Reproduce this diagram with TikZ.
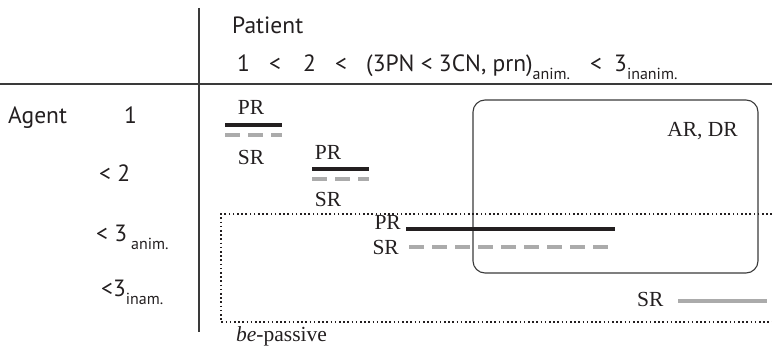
\documentclass[tikz,border=0pt]{standalone}
\usepackage{fontspec}
\setmainfont{Liberation Serif}
\setsansfont{PT Sans}
\definecolor{ink}{HTML}{231F20}
\definecolor{bargray}{HTML}{ABABAB}
\definecolor{framegray}{HTML}{3A3A3A}
\newcommand{\sublow}[1]{\raisebox{-0.33em}{\fontsize{16}{16}\selectfont #1}}
\tikzset{
  head/.style={inner sep=0pt, font=\sffamily\fontsize{23.5}{25}\selectfont, text=ink},
  role/.style={inner sep=0pt, font=\fontsize{21.5}{23}\selectfont, text=ink},
  rule/.style={draw=framegray, line width=1.1pt},
  pbar/.style={draw=ink, line width=3.4pt},
  sbar/.style={draw=bargray, line width=3.4pt},
  sdash/.style={sbar, dash pattern=on 15pt off 8pt},
  region/.style={draw=ink, line width=1.1pt, dash pattern=on 1.6pt off 2.6pt},
  zone/.style={draw=framegray, line width=1.1pt, rounded corners=12pt}
}
\begin{document}
\begin{tikzpicture}[x=1pt, y=-1pt]
\useasboundingbox (0,0) rectangle (772,355);

% table rules
\draw[rule] (199,8) -- (199,332);
\draw[rule] (0,84) -- (772,84);

% patient header
\node[head, anchor=base west] (patient) at (232,34) {Patient};
\node[head, anchor=base west] (p1) at (237,72) {1};
\node[head, anchor=base west] (lt1) at (269,72) {<};
\node[head, anchor=base west] (p2) at (303,72) {2};
\node[head, anchor=base west] (lt2) at (335,72) {<};
\node[head, anchor=base west] (p3) at (366,72) {(3PN < 3CN, prn)\sublow{anim.}};
\node[head, anchor=base west] (lt3) at (590,72) {<};
\node[head, anchor=base west] (p4) at (614,72) {3\sublow{inanim.}};

% agent column
\node[head, anchor=base west] (agent) at (8,124) {Agent};
\node[head, anchor=base west] (a1) at (124,124) {1};
\node[head, anchor=base west] (a2) at (99,182) {< 2};
\node[head, anchor=base west] (a3) at (96,242) {< 3\,\sublow{anim.}};
\node[head, anchor=base west] (a4) at (101,297) {<3\sublow{inam.}};

% AR, DR zone
\draw[zone] (473,100) rectangle (758,273);
\node[role, anchor=base east] (ardr) at (738,137) {AR, DR};

% be-passive region (open to the right)
\draw[region] (772,214) -- (221,214) -- (221,322) -- (772,322);
\node[role, anchor=base west] (bepass) at (236,342) {\textit{be}-passive};

% 1 > 2
\node[role, anchor=base] (pr1) at (251,115) {PR};
\draw[pbar] (225,125) -- (282,125);
\draw[sdash] (225,135) -- (282,135);
\node[role, anchor=base] (sr1) at (251,165) {SR};

% 2 > 3
\node[role, anchor=base] (pr2) at (328,160) {PR};
\draw[pbar] (312,169) -- (369,169);
\draw[sdash] (312,179) -- (369,179);
\node[role, anchor=base] (sr2) at (328,207) {SR};

% 3 animate
\node[role, anchor=base east] (pr3) at (401,230) {PR};
\draw[pbar] (406,229) -- (615,229);
\draw[sdash] (409,247) -- (608,247);
\node[role, anchor=base east] (sr3) at (399,255) {SR};

% 3 inanimate
\node[role, anchor=base west] (sr4) at (637,307) {SR};
\draw[sbar] (678,301) -- (767,301);
\end{tikzpicture}
\end{document}
